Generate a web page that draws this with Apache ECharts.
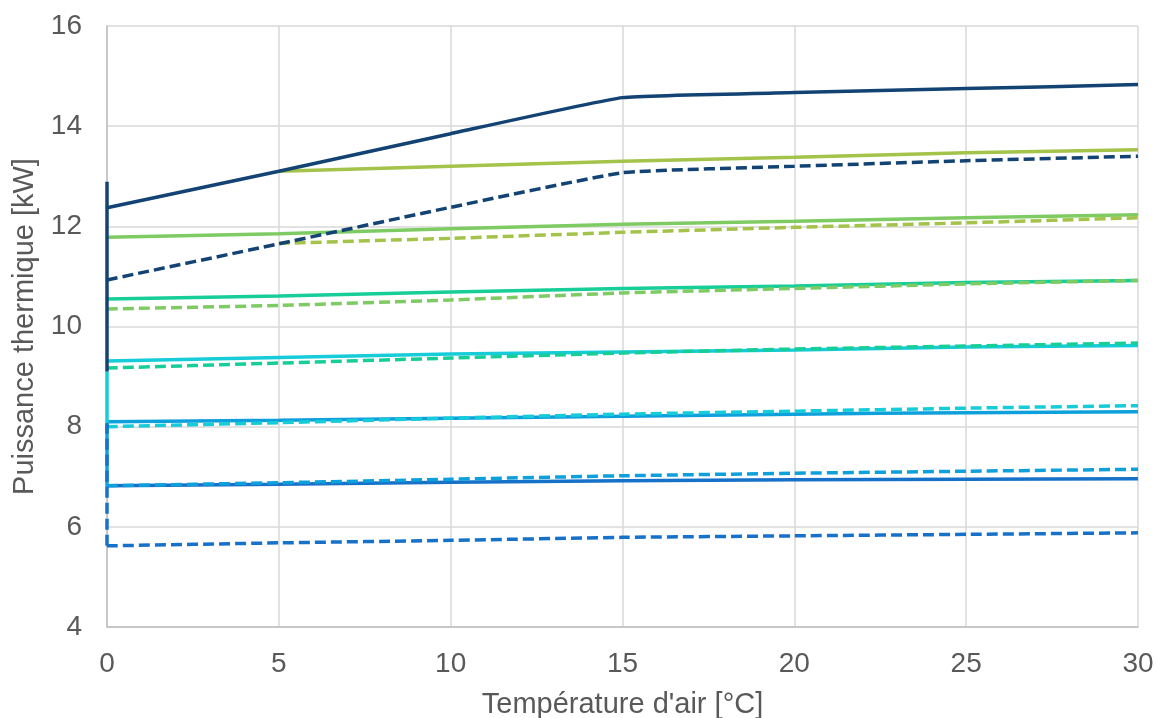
<!DOCTYPE html>
<html>
<head>
<meta charset="utf-8">
<script src="https://cdn.jsdelivr.net/npm/echarts@6/dist/echarts.min.js"></script>
<style>
html,body{margin:0;padding:0;background:#fff;}
#chart{width:1157px;height:718px;}
</style>
</head>
<body>
<div id="chart"></div>
<script>
// ---- data ----
const temps = [0, 5, 10, 15, 20, 25, 30];
const colors = ['#124373', '#A4C34A', '#7ECB63', '#17CD98', '#16CCD8', '#0EA0DB', '#1671C8'];
const solidNavy   = [12.37, 13.10, 13.85, 14.57, 14.67, 14.75, 14.83];
const solidYG     = [null, 13.10, 13.20, 13.30, 13.38, 13.47, 13.53];
const solidGreen  = [11.78, 11.85, 11.95, 12.04, 12.10, 12.17, 12.23];
const solidTeal   = [10.55, 10.61, 10.69, 10.76, 10.81, 10.88, 10.92];
const solidCyan   = [9.31, 9.38, 9.45, 9.49, 9.53, 9.59, 9.62];
const solidBlue   = [8.10, 8.13, 8.17, 8.21, 8.25, 8.28, 8.30];
const solidDBlue  = [6.82, 6.85, 6.89, 6.92, 6.94, 6.95, 6.96];
const dashNavy    = [10.93, 11.65, 12.38, 13.07, 13.20, 13.31, 13.40];
const dashYG      = [null, 11.66, 11.76, 11.88, 11.98, 12.07, 12.17];
const dashGreen   = [10.35, 10.42, 10.53, 10.67, 10.76, 10.85, 10.92];
const dashTeal    = [9.17, 9.27, 9.37, 9.47, 9.55, 9.61, 9.67];
const dashCyan    = [8.00, 8.08, 8.17, 8.25, 8.31, 8.37, 8.42];
const dashBlue    = [6.82, 6.88, 6.95, 7.02, 7.07, 7.11, 7.15];
const dashDBlue   = [5.62, 5.68, 5.73, 5.79, 5.82, 5.85, 5.88];
// vertical segments drawn at x = 0
const edgeColorIdx = [4, 5, 6, 0];
const edgeLow      = [8.07, 6.80, 5.62, 9.10];
const edgeHigh     = [9.10, 8.07, 8.07, 12.89];
const edgeDashed   = [false, false, true, false];
const xTicks = [0, 5, 10, 15, 20, 25, 30];
const yTicks = [4, 6, 8, 10, 12, 14, 16];

const solids = [solidNavy, solidYG, solidGreen, solidTeal, solidCyan, solidBlue, solidDBlue];
const dashes = [dashNavy, dashYG, dashGreen, dashTeal, dashCyan, dashBlue, dashDBlue];
const drawOrder = [1, 0, 2, 3, 4, 5, 6];

function pairs(vals) {
  const out = [];
  vals.forEach((v, i) => { if (v !== null) out.push([temps[i], v]); });
  return out;
}
const font = '"Liberation Sans", Arial, sans-serif';
const LW = 3.5;
const DASH = [11, 5];
const SMOOTH = 0.12;
const series = [];
drawOrder.forEach(i => series.push({
  type: 'line', data: pairs(solids[i]), smooth: SMOOTH, showSymbol: false, clip: false,
  lineStyle: { color: colors[i], width: LW }
}));
drawOrder.forEach(i => series.push({
  type: 'line', data: pairs(dashes[i]), smooth: SMOOTH, showSymbol: false, clip: false,
  lineStyle: { color: colors[i], width: LW, type: DASH }
}));
edgeColorIdx.forEach((ci, k) => series.push({
  type: 'line', data: [[0, edgeLow[k]], [0, edgeHigh[k]]], showSymbol: false, clip: false,
  lineStyle: { color: colors[ci], width: LW, type: edgeDashed[k] ? DASH : 'solid' }
}));

const chart = echarts.init(document.getElementById('chart'), null, { renderer: 'canvas' });
chart.setOption({
  animation: false,
  backgroundColor: '#ffffff',
  grid: { left: 107, right: 19, top: 26, bottom: 91, containLabel: false, outerBoundsMode: 'none' },
  xAxis: {
    type: 'value', min: xTicks[0], max: xTicks[xTicks.length - 1], interval: 5,
    name: "Température d'air [°C]", nameLocation: 'middle', nameGap: 63,
    nameTextStyle: { fontFamily: font, fontSize: 29, color: '#595959' },
    axisLine: { show: true, lineStyle: { color: '#BFBFBF', width: 1.5 } },
    axisTick: { show: false },
    axisLabel: { fontFamily: font, fontSize: 28, color: '#595959', margin: 23 },
    splitLine: { show: true, lineStyle: { color: '#D9D9D9', width: 1.5 } }
  },
  yAxis: {
    type: 'value', min: yTicks[0], max: yTicks[yTicks.length - 1], interval: 2,
    name: 'Puissance thermique [kW]', nameLocation: 'middle', nameGap: 62, nameRotate: 90,
    nameTextStyle: { fontFamily: font, fontSize: 29, color: '#595959' },
    axisLine: { show: true, lineStyle: { color: '#BFBFBF', width: 1.5 } },
    axisTick: { show: false },
    axisLabel: { fontFamily: font, fontSize: 28, color: '#595959', margin: 25 },
    splitLine: { show: true, lineStyle: { color: '#D9D9D9', width: 1.5 } }
  },
  series: series
});
</script>
</body>
</html>
